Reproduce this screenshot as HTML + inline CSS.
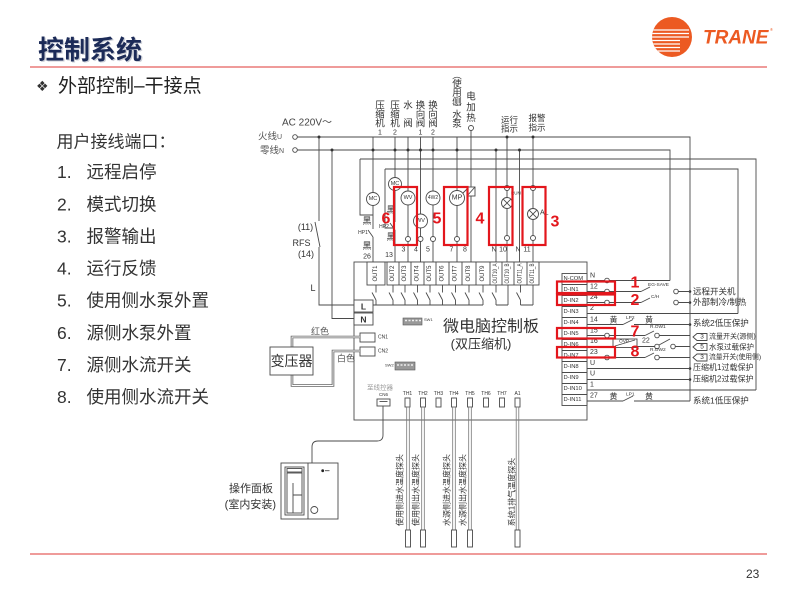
<!DOCTYPE html>
<html><head><meta charset="utf-8"><title>控制系统</title>
<style>
html,body{margin:0;padding:0;background:#fff;width:800px;height:600px;overflow:hidden}
svg{display:block}
text{font-family:"Liberation Sans","Noto Sans CJK SC",sans-serif;fill:#333}
.l{stroke:#4a4a4a;stroke-width:0.9;fill:none}
.w{stroke:#4a4a4a;stroke-width:0.9;fill:#fff}
.r{stroke:#e3161c;stroke-width:2.2;fill:none}
.rn{fill:#e3161c;font-weight:bold;font-size:16px;text-anchor:middle;dominant-baseline:central}
.m{text-anchor:middle;dominant-baseline:central}
.c{dominant-baseline:central}
.d{fill:#333}
.g{fill:#666}
</style></head><body>
<svg width="800" height="600" viewBox="0 0 800 600" xmlns="http://www.w3.org/2000/svg">
<defs><clipPath id="cc"><circle cx="672" cy="37" r="20"/></clipPath></defs>

<!-- ===== Header ===== -->
<text x="39.2" y="60.2" font-size="26" font-weight="bold" style="fill:#8d93a6;opacity:0.45">控制系统</text>
<text x="38" y="59" font-size="26" font-weight="bold" style="fill:#1c2b58">控制系统</text>
<line x1="30" y1="67" x2="767" y2="67" stroke="#ea7a78" stroke-width="1.6"/>

<!-- logo -->
<circle cx="672" cy="37" r="20" fill="#ec5a22"/>
<g clip-path="url(#cc)" stroke="#fff" stroke-width="1.3">
<line x1="650" y1="30" x2="689" y2="30"/>
<line x1="650" y1="33.5" x2="689" y2="33.5"/>
<line x1="650" y1="37" x2="689" y2="37"/>
<line x1="650" y1="40.5" x2="680" y2="40.5"/>
<line x1="650" y1="44" x2="680" y2="44"/>
<line x1="650" y1="47.5" x2="680" y2="47.5"/>
<line x1="650" y1="51" x2="680" y2="51"/>
</g>
<text x="703" y="43.5" font-size="19" font-weight="bold" font-style="italic" style="fill:#ec5a22">TRANE</text>
<text x="770" y="31" font-size="4" style="fill:#ec5a22">®</text>

<!-- subtitle -->
<text x="36" y="91" font-size="14" style="font-family:'DejaVu Sans',sans-serif;fill:#333">❖</text>
<text x="58" y="92" font-size="19" style="fill:#222">外部控制–干接点</text>

<!-- left list -->
<g font-size="17.5" style="fill:#222">
<text x="56.5" y="147.5" font-size="17">用户接线端口：</text>
<text x="57" y="178.2">1.</text><text x="86.5" y="178.2">远程启停</text>
<text x="57" y="210.3">2.</text><text x="86.5" y="210.3">模式切换</text>
<text x="57" y="242.4">3.</text><text x="86.5" y="242.4">报警输出</text>
<text x="57" y="274.6">4.</text><text x="86.5" y="274.6">运行反馈</text>
<text x="57" y="306.7">5.</text><text x="86.5" y="306.7">使用侧水泵外置</text>
<text x="57" y="338.9">6.</text><text x="86.5" y="338.9">源侧水泵外置</text>
<text x="57" y="371.0">7.</text><text x="86.5" y="371.0">源侧水流开关</text>
<text x="57" y="403.2">8.</text><text x="86.5" y="403.2">使用侧水流开关</text>
</g>

<!-- bottom -->
<line x1="30" y1="554" x2="767" y2="554" stroke="#ea7a78" stroke-width="1.4"/>
<text x="746" y="578" font-size="12" style="fill:#333">23</text>

<!-- ===== Diagram ===== -->
<!-- top vertical labels -->
<g font-size="9.5" class="g">
<text class="m" x="380" y="106">压</text><text class="m" x="380" y="115">缩</text><text class="m" x="380" y="124">机</text><text class="m" x="380" y="133" font-size="7">1</text>
<text class="m" x="395" y="106">压</text><text class="m" x="395" y="115">缩</text><text class="m" x="395" y="124">机</text><text class="m" x="395" y="133" font-size="7">2</text>
<text class="m" x="408" y="106">水</text><text class="m" x="408" y="124">阀</text>
<text class="m" x="420.5" y="106">换</text><text class="m" x="420.5" y="115">向</text><text class="m" x="420.5" y="124">阀</text><text class="m" x="420.5" y="133" font-size="7">1</text>
<text class="m" x="433" y="106">换</text><text class="m" x="433" y="115">向</text><text class="m" x="433" y="124">阀</text><text class="m" x="433" y="133" font-size="7">2</text>
<text class="m" x="457" y="76">︵</text><text class="m" x="457" y="84.5">使</text><text class="m" x="457" y="93.5">用</text><text class="m" x="457" y="102.5">侧</text><text class="m" x="457" y="109">︶</text><text class="m" x="457" y="115.5">水</text><text class="m" x="457" y="124.5">泵</text>
<text class="m" x="471" y="97">电</text><text class="m" x="471" y="108">加</text><text class="m" x="471" y="118.5">热</text>
<text class="m" x="509.5" y="120" font-size="8.5">运行</text><text class="m" x="509.5" y="128.5" font-size="8.5">指示</text>
<text class="m" x="537" y="118" font-size="8.5">报警</text><text class="m" x="537" y="127.5" font-size="8.5">指示</text>
</g>
<text x="282" y="123" font-size="10" class="c" style="fill:#444">AC 220V～</text>
<text x="258" y="137" font-size="9.5" class="c" style="fill:#555">火线<tspan font-size="7">U</tspan></text>
<text x="260" y="151" font-size="9.5" class="c" style="fill:#555">零线<tspan font-size="7">N</tspan></text>

<!-- main wires -->
<g class="l">
<path d="M297.5 137H690V401"/>
<path d="M297.5 150H670V280.5"/>
<path d="M360 159H756V390"/>
<path d="M385 169H738V313.5"/>
<path d="M360 159V215H373"/>
<path d="M385 169V228H395"/>
<path d="M319 137V221M315 222L320 247M319 247V305H354"/>
<path d="M332 150V318.5H354"/>
<path d="M373 137V192.5M373 205.5V229M373 237V262M373 237L368 230"/>
<path d="M395 137V177.5M395 190.5V222M395 230V262M395 230L390 223"/>
<path d="M408 137V191M408 205V236.5M408 241.5V262"/>
<path d="M420.5 137V214M420.5 228V236.5M420.5 241.5V262"/>
<path d="M433 137V191M433 205V236.5M433 241.5V262"/>
<path d="M457 137V190.5M457 205.5V236.5M457 241.5V262"/>
<path d="M471 130.5V262"/>
<path d="M496 150V262M519.5 150V262"/>
<path d="M507 137V185.5M507 190.5V197.5M507 208.5V235.5M507 240.5V262"/>
<path d="M533 137V185.5M533 190.5V208.5M533 219.5V235.5M533 240.5V262"/>
<path d="M463 193L468 188"/>
</g>

<!-- board -->
<rect class="l" x="354" y="262" width="233" height="158"/>

<!-- components -->
<g class="w">
<circle cx="295" cy="137" r="2.3"/><circle cx="295" cy="150" r="2.3"/>
<circle cx="373" cy="199" r="6.5"/>
<circle cx="395" cy="184" r="6.5"/>
<circle cx="408" cy="198" r="7"/>
<circle cx="420.5" cy="221" r="7"/>
<circle cx="433" cy="198" r="7"/>
<circle cx="457" cy="198" r="7.5"/>
<circle cx="408" cy="239" r="2.5"/><circle cx="420.5" cy="239" r="2.5"/><circle cx="433" cy="239" r="2.5"/><circle cx="457" cy="239" r="2.5"/>
<circle cx="471" cy="128" r="2.5"/>
<circle cx="507" cy="188" r="2.5"/><circle cx="507" cy="238" r="2.5"/>
<circle cx="533" cy="188" r="2.5"/><circle cx="533" cy="238" r="2.5"/>
<circle cx="507" cy="203" r="5.5"/>
<circle cx="533" cy="214" r="5.5"/>
<rect x="467" y="187" width="8" height="9"/>
</g>
<path class="l" d="M503.1 199.1L510.9 206.9M510.9 199.1L503.1 206.9M529.1 210.1L536.9 217.9M536.9 210.1L529.1 217.9M467 196L475 187"/>
<g font-size="5.5" style="fill:#333">
<text class="m" x="373" y="199">MC</text>
<text class="m" x="395" y="184">MC</text>
<text class="m" x="408" y="198">WV</text>
<text class="m" x="420.5" y="221">WV</text>
<text class="m" x="433" y="198" font-size="5">4W2</text>
<text class="m" x="457" y="198" font-size="7">MP</text>
<text class="c" x="511" y="193" font-size="4.5">RUN</text>
<text class="c" x="540" y="213" font-size="7">AL</text>
</g>

<!-- dots -->
<g class="d">
<circle cx="319" cy="137" r="1.5"/><circle cx="507" cy="137" r="1.5"/><circle cx="533" cy="137" r="1.5"/>
<circle cx="332" cy="150" r="1.5"/><circle cx="373" cy="150" r="1.5"/><circle cx="395" cy="150" r="1.5"/><circle cx="408" cy="150" r="1.5"/><circle cx="420.5" cy="150" r="1.5"/><circle cx="433" cy="150" r="1.5"/><circle cx="457" cy="150" r="1.5"/><circle cx="496" cy="150" r="1.5"/><circle cx="519.5" cy="150" r="1.5"/>
<circle cx="690" cy="291.5" r="1.3"/><circle cx="690" cy="302.5" r="1.3"/><circle cx="690" cy="324.5" r="1.3"/><circle cx="690" cy="368.5" r="1.3"/><circle cx="690" cy="379.5" r="1.3"/>
</g>

<!-- small labels near MC -->
<g style="fill:#555">
<text class="m" x="367" y="221" font-size="9">黑</text>
<text class="m" x="367" y="246" font-size="9">黑</text>
<text class="m" x="391" y="210" font-size="9">黑</text>
<text class="m" x="391" y="237" font-size="9">黑</text>
<text class="m" x="363" y="233" font-size="5">HP1</text>
<text class="m" x="384" y="227" font-size="5">HP2</text>
<text class="m" x="305.5" y="227" font-size="9">(11)</text>
<text class="m" x="301.5" y="243" font-size="9">RFS</text>
<text class="m" x="306" y="254" font-size="9">(14)</text>
<text class="m" x="313" y="288" font-size="9">L</text>
</g>
<g font-size="7" style="fill:#333">
<text class="m" x="367" y="257">26</text>
<text class="m" x="389" y="255.5">13</text>
<text class="m" x="403.5" y="250">3</text>
<text class="m" x="416" y="250">4</text>
<text class="m" x="428" y="250">5</text>
<text class="m" x="451.5" y="250">7</text>
<text class="m" x="465" y="250">8</text>
<text class="m" x="494" y="250">N</text>
<text class="m" x="503" y="250">10</text>
<text class="m" x="518" y="250">N</text>
<text class="m" x="527" y="250">11</text>
</g>

<!-- red top boxes -->
<rect class="r" x="394" y="187" width="23" height="58"/>
<rect class="r" x="444" y="187" width="23.5" height="58"/>
<rect class="r" x="489" y="187" width="23.5" height="58"/>
<rect class="r" x="522.5" y="187" width="23" height="58"/>
<text class="rn" x="386" y="219">6</text>
<text class="rn" x="437" y="219">5</text>
<text class="rn" x="480" y="219">4</text>
<text class="rn" x="555" y="222">3</text>

<!-- OUT strip -->
<rect class="w" x="367" y="262" width="18" height="23"/>
<rect class="w" x="387" y="262" width="152" height="23"/>
<path class="l" d="M399 262V285M411 262V285M424 262V285M436 262V285M449 262V285M462 262V285M476 262V285M490 262V285M502 262V285M514 262V285M527 262V285"/>
<g font-size="6" style="fill:#333">
<text class="m" transform="translate(376,273.5) rotate(-90)">OUT1</text>
<text class="m" transform="translate(393,273.5) rotate(-90)">OUT2</text>
<text class="m" transform="translate(405,273.5) rotate(-90)">OUT3</text>
<text class="m" transform="translate(417.5,273.5) rotate(-90)">OUT4</text>
<text class="m" transform="translate(430,273.5) rotate(-90)">OUT5</text>
<text class="m" transform="translate(442.5,273.5) rotate(-90)">OUT6</text>
<text class="m" transform="translate(455.5,273.5) rotate(-90)">OUT7</text>
<text class="m" transform="translate(469,273.5) rotate(-90)">OUT8</text>
<text class="m" transform="translate(483,273.5) rotate(-90)">OUT9</text>
<text class="m" transform="translate(496,273.5) rotate(-90)" textLength="20" lengthAdjust="spacingAndGlyphs">OUT10_A</text>
<text class="m" transform="translate(508,273.5) rotate(-90)" textLength="20" lengthAdjust="spacingAndGlyphs">OUT10_B</text>
<text class="m" transform="translate(520.5,273.5) rotate(-90)" textLength="20" lengthAdjust="spacingAndGlyphs">OUT11_A</text>
<text class="m" transform="translate(533,273.5) rotate(-90)" textLength="20" lengthAdjust="spacingAndGlyphs">OUT11_B</text>
</g>
<path class="l" d="M376 285V292.5M376 300L372 292.5M376 300V305
M393 285V292.5M393 300L389 292.5M393 300V305
M405 285V292.5M405 300L401 292.5M405 300V305
M417.5 285V292.5M417.5 300L413.5 292.5M417.5 300V305
M430 285V292.5M430 300L426 292.5M430 300V305
M442.5 285V292.5M442.5 300L438.5 292.5M442.5 300V305
M455.5 285V292.5M455.5 300L451.5 292.5M455.5 300V305
M469 285V292.5M469 300L465 292.5M469 300V305
M483 285V292.5M483 300L479 292.5M483 300V305
M496 285V292.5M496 300L492 292.5M496 300V305
M520.5 285V292.5M520.5 300L516.5 292.5M520.5 300V305
M508 285V305M533 285V305M373 305H483M496 305H508M520.5 305H533"/>

<!-- L N boxes -->
<rect class="w" x="354" y="300" width="19" height="12"/>
<rect class="w" x="354" y="313" width="19" height="12"/>
<text class="m" x="363.5" y="306.3" font-size="8.5" font-weight="bold">L</text>
<text class="m" x="363.5" y="319.3" font-size="8.5" font-weight="bold">N</text>

<!-- CN1 CN2 -->
<rect class="w" x="360" y="333" width="15" height="9"/>
<rect class="w" x="360" y="347" width="15" height="9"/>
<text class="c" x="378" y="337.5" font-size="5">CN1</text>
<text class="c" x="378" y="351.5" font-size="5">CN2</text>

<!-- SW1 SW2 -->
<rect x="403" y="318" width="19" height="7" fill="#999" stroke="#555" stroke-width="0.6"/>
<path d="M405 320.5h2M408.5 320.5h2M412 320.5h2M415.5 320.5h2M419 320.5h2" stroke="#eee" stroke-width="1.5"/>
<text class="c" x="424" y="319.5" font-size="4">SW1</text>
<rect x="395" y="362" width="20" height="8" fill="#999" stroke="#555" stroke-width="0.6"/>
<path d="M397 365h2M400.5 365h2M404 365h2M407.5 365h2M411 365h2" stroke="#eee" stroke-width="1.5"/>
<text class="c" x="385" y="365" font-size="4">SW2</text>

<text class="m" x="491" y="327" font-size="16" style="fill:#333">微电脑控制板</text>
<text class="m" x="481" y="344" font-size="13" style="fill:#333">(双压缩机)</text>

<!-- transformer -->
<path d="M292 347V337H360M292 375V385.5H333V351H360" stroke="#666" stroke-width="2.6" fill="none"/>
<path d="M292 347V337H360M292 375V385.5H333V351H360" stroke="#fff" stroke-width="0.9" fill="none"/>
<rect class="w" x="270" y="347" width="43" height="28"/>
<text class="m" x="291.5" y="361" font-size="14" style="fill:#333">变压器</text>
<text class="m" x="320" y="331.5" font-size="9" style="fill:#555">红色</text>
<text class="m" x="346" y="358.5" font-size="9" style="fill:#555">白色</text>

<!-- bottom connectors -->
<text class="m" x="380" y="388" font-size="6.5" style="fill:#999">至线控器</text>
<text class="m" x="383.5" y="394.5" font-size="4.5">CN6</text>
<rect class="w" x="377" y="399" width="13" height="7"/>
<path class="l" d="M379.5 401.5h8"/>
<g font-size="5" style="fill:#333">
<text class="m" x="407.5" y="394">TH1</text>
<text class="m" x="423" y="394">TH2</text>
<text class="m" x="438.5" y="394">TH3</text>
<text class="m" x="454" y="394">TH4</text>
<text class="m" x="470" y="394">TH5</text>
<text class="m" x="486" y="394">TH6</text>
<text class="m" x="502" y="394">TH7</text>
<text class="m" x="517.5" y="394">A1</text>
</g>
<g class="w">
<rect x="405" y="398" width="5" height="9"/><rect x="420.5" y="398" width="5" height="9"/><rect x="436" y="398" width="5" height="9"/><rect x="451.5" y="398" width="5" height="9"/><rect x="467.5" y="398" width="5" height="9"/><rect x="483.5" y="398" width="5" height="9"/><rect x="499.5" y="398" width="5" height="9"/><rect x="515" y="398" width="5" height="9"/>
</g>
<g fill="none" stroke="#777" stroke-width="0.8">
<rect x="406.7" y="407" width="2.6" height="123"/>
<rect x="421.7" y="407" width="2.6" height="123"/>
<rect x="452.7" y="407" width="2.6" height="123"/>
<rect x="468.7" y="407" width="2.6" height="123"/>
<rect x="516.2" y="407" width="2.6" height="123"/>
</g>
<g class="w">
<rect x="405.5" y="530" width="5" height="17"/>
<rect x="420.5" y="530" width="5" height="17"/>
<rect x="451.5" y="530" width="5" height="17"/>
<rect x="467.5" y="530" width="5" height="17"/>
<rect x="515" y="530" width="5" height="17"/>
</g>
<g font-size="8" style="fill:#777">
<text class="m" transform="translate(400,490) rotate(-90)">使用侧进水温度探头</text>
<text class="m" transform="translate(416,490) rotate(-90)">使用侧出水温度探头</text>
<text class="m" transform="translate(447,490) rotate(-90)">水源侧进水温度探头</text>
<text class="m" transform="translate(463,490) rotate(-90)">水源侧出水温度探头</text>
<text class="m" transform="translate(512,492) rotate(-90)">系统1排气温度探头</text>
</g>

<!-- panel -->
<path class="l" d="M383 406V435Q383 441 377 441H318Q312 441 312 447V463"/>
<rect class="l" x="281" y="463" width="57" height="56"/>
<path class="l" d="M308 463V519"/>
<rect class="l" x="285" y="467" width="19" height="48"/>
<rect class="l" x="287" y="468.5" width="15" height="3.5"/>
<rect class="l" x="287" y="473" width="15" height="40"/>
<path class="l" d="M293 483V513M293 495H302"/>
<circle cx="322.7" cy="470.7" r="1.4" fill="#222"/>
<path class="l" d="M325 470.7H329.5"/>
<circle class="l" cx="314.3" cy="510" r="3.5"/>
<text x="273" y="492" font-size="11" text-anchor="end" style="fill:#333">操作面板</text>
<text x="276" y="508" font-size="11" text-anchor="end" style="fill:#333">(室内安装)</text>

<!-- D-IN strip -->
<rect class="w" x="562" y="273.5" width="25" height="132"/>
<path class="l" d="M562 284.5H587M562 295.5H587M562 306.5H587M562 317.5H587M562 328.5H587M562 339.5H587M562 350.5H587M562 361.5H587M562 372.5H587M562 383.5H587M562 394.5H587"/>
<g font-size="5.8" style="fill:#333">
<text class="c" x="563.5" y="279">N-COM</text>
<text class="c" x="563.5" y="290">D-IN1</text>
<text class="c" x="563.5" y="301">D-IN2</text>
<text class="c" x="563.5" y="312">D-IN3</text>
<text class="c" x="563.5" y="323">D-IN4</text>
<text class="c" x="563.5" y="334">D-IN5</text>
<text class="c" x="563.5" y="345">D-IN6</text>
<text class="c" x="563.5" y="356">D-IN7</text>
<text class="c" x="563.5" y="367">D-IN8</text>
<text class="c" x="563.5" y="378">D-IN9</text>
<text class="c" x="563.5" y="389">D-IN10</text>
<text class="c" x="563.5" y="400">D-IN11</text>
</g>
<g font-size="7" style="fill:#333">
<text class="c" x="590" y="276">N</text>
<text class="c" x="590" y="287">12</text>
<text class="c" x="590" y="297.5">24</text>
<text class="c" x="590" y="308.5">2</text>
<text class="c" x="590" y="320">14</text>
<text class="c" x="590" y="331">15</text>
<text class="c" x="590" y="341.5">16</text>
<text class="c" x="590" y="352.5">23</text>
<text class="c" x="590" y="363.5">U</text>
<text class="c" x="590" y="374">U</text>
<text class="c" x="590" y="385">1</text>
<text class="c" x="590" y="396">27</text>
</g>
<!-- row wires -->
<g class="l">
<path d="M587 280.5H604.5M609.5 280.5H670"/>
<path d="M587 291.5H604.5M609.5 291.5H641M641 291.5L650 287M678.5 291.5H690"/>
<path d="M587 302.5H604.5M609.5 302.5H641M641 302.5L650 298M678.5 302.5H690"/>
<path d="M587 313.5H738"/>
<path d="M587 324.5H623M623 324.5L633 319.5M634 324.5H690"/>
<path d="M587 335.5H604.5M609.5 335.5H645M645 335.5L654 331M659.5 335.5H690"/>
<path d="M587 346.5H613M637 346.5H654.5M659 345L670 339M675.5 346.5H690"/>
<path d="M587 357.5H604.5M609.5 357.5H645M645 357.5L654 353M659.5 357.5H690"/>
<path d="M587 368.5H690"/>
<path d="M587 379.5H690"/>
<path d="M587 390H756"/>
<path d="M587 401H623M623 401L633 396M634 401H690"/>
<rect x="613" y="339" width="24" height="8.5"/>
<path d="M615 346L635 340"/>
</g>
<g class="w">
<circle cx="607" cy="280.5" r="2.3"/>
<circle cx="607" cy="291.5" r="2.3"/><circle cx="676" cy="291.5" r="2.3"/>
<circle cx="607" cy="302.5" r="2.3"/><circle cx="676" cy="302.5" r="2.3"/>
<circle cx="607" cy="335.5" r="2.3"/><circle cx="657" cy="335.5" r="2.3"/>
<circle cx="657" cy="346.5" r="2.3"/><circle cx="673" cy="346.5" r="2.3"/>
<circle cx="607" cy="357.5" r="2.3"/><circle cx="657" cy="357.5" r="2.3"/>
</g>
<g font-size="4.8" style="fill:#333">
<text class="c" x="648" y="285.5">EG-SAVE</text>
<text class="c" x="651" y="297.5">C/H</text>
<text class="c" x="626" y="318.5">LP2</text>
<text class="c" x="650" y="327.5">R.OW1</text>
<text class="c" x="619" y="342">OVP</text>
<text class="c" x="650" y="350.5">R.OW2</text>
<text class="c" x="626" y="395">LP1</text>
</g>
<g font-size="8" style="fill:#333">
<text class="m" x="613.5" y="320">黄</text>
<text class="m" x="649" y="320">黄</text>
<text class="m" x="613.5" y="396.5">黄</text>
<text class="m" x="649" y="396.5">黄</text>
<text class="c" x="642" y="341" font-size="7">22</text>
</g>
<!-- tags -->
<g class="w">
<path d="M693 337L697 333.5H707V340.5H697Z"/>
<path d="M693 347L697 343.5H707V350.5H697Z"/>
<path d="M693 357.5L697 354H707V361H697Z"/>
</g>
<g font-size="6.5" style="fill:#333">
<text class="m" x="702" y="337">3</text>
<text class="m" x="702" y="347">5</text>
<text class="m" x="702" y="357.5">3</text>
</g>
<g font-size="8.5" style="fill:#444">
<text class="c" x="693" y="291.5">远程开关机</text>
<text class="c" x="693" y="302">外部制冷/制热</text>
<text class="c" x="693" y="323">系统2低压保护</text>
<text class="c" x="709" y="337" font-size="7">流量开关(源侧)</text>
<text class="c" x="709" y="347" font-size="7.5">水泵过载保护</text>
<text class="c" x="709" y="357.5" font-size="6.8">流量开关(使用侧)</text>
<text class="c" x="693" y="367.5" font-size="8">压缩机1过载保护</text>
<text class="c" x="693" y="379" font-size="8">压缩机2过载保护</text>
<text class="c" x="693" y="400.5">系统1低压保护</text>
</g>

<!-- red D-IN boxes -->
<rect class="r" x="557" y="281.5" width="58" height="11.5"/>
<rect class="r" x="557" y="294.5" width="58" height="10.5"/>
<rect class="r" x="557" y="328" width="58" height="10.5"/>
<rect class="r" x="557" y="347" width="58" height="10.5"/>
<g class="rn" style="font-size:15px">
<text class="rn" x="635" y="283" font-size="15">1</text>
<text class="rn" x="635" y="300.5" font-size="15">2</text>
<text class="rn" x="635" y="332" font-size="15">7</text>
<text class="rn" x="635" y="352" font-size="15">8</text>
</g>
</svg>
</body></html>
